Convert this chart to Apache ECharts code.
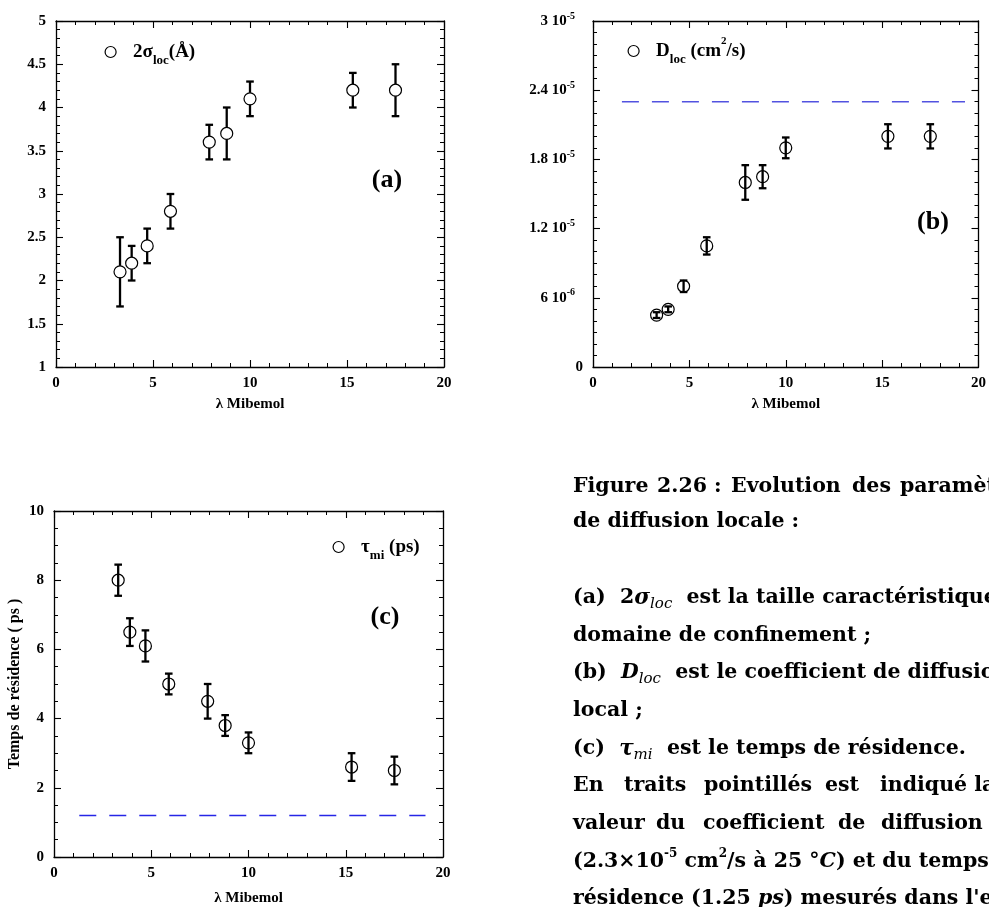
<!DOCTYPE html>
<html>
<head>
<meta charset="utf-8">
<script src="https://cdn.jsdelivr.net/npm/echarts@6/dist/echarts.min.js"></script>
<style>
html, body { margin: 0; padding: 0; background: #fff; }
#chart { width: 989px; height: 907px; }
</style>
</head>
<body>
<div id="chart"></div>
<script>
// λ Mibemol (shared by the three panels)
const lambda = [3.3, 3.9, 4.7, 5.9, 7.9, 8.8, 10, 15.3, 17.5];

// (a) 2σloc (Å)
const sigma    = [2.1, 2.2, 2.4, 2.8, 3.6, 3.7, 4.1, 4.2, 4.2];
const sigmaErr = [0.4, 0.2, 0.2, 0.2, 0.2, 0.3, 0.2, 0.2, 0.3];

// (b) Dloc (cm2/s)
const dloc    = [4.5e-6, 5.0e-6, 7.0e-6, 10.5e-6, 16.0e-6, 16.5e-6, 19.0e-6, 20.0e-6, 20.0e-6];
const dlocErr = [0.25e-6, 0.25e-6, 0.5e-6, 0.75e-6, 1.5e-6, 1.0e-6, 0.9e-6, 1.05e-6, 1.05e-6];
const dlocRef = 2.3e-5;          // eau pure, 25 °C
const dlocRefSpan = [1.5, 19.3];
const dlocTickMant = ['0', '6', '1.2', '1.8', '2.4', '3'];
const dlocTickExp  = ['', '-6', '-5', '-5', '-5', '-5'];

// (c) τmi (ps)
const tau    = [8.0, 6.5, 6.1, 5.0, 4.5, 3.8, 3.3, 2.6, 2.5];
const tauErr = [0.45, 0.4, 0.45, 0.3, 0.5, 0.3, 0.3, 0.4, 0.4];
const tauRef = 1.2;
const tauRefSpan = [1.3, 19.1];

const SERIF = '"Liberation Serif", "DejaVu Serif", serif';
const CAPFONT = '"DejaVu Serif", "Liberation Serif", serif';

const chart = echarts.init(document.getElementById('chart'));

// cadre : axes bas/haut, gauche/droite, graduations vers l'intérieur
function xPair(g, name, nameGap) {
    const base = {
        gridIndex: g, type: 'value', min: 0, max: 20, interval: 5,
        axisLine: { show: true, onZero: false, lineStyle: { color: '#000', width: 1.3 } },
        axisTick: { show: true, inside: true, length: 7, lineStyle: { color: '#000', width: 1.1 } },
        minorTick: { show: true, splitNumber: 5, length: 4, lineStyle: { color: '#000', width: 1 } },
        splitLine: { show: false },
        minorSplitLine: { show: false }
    };
    return [
        Object.assign({}, base, {
            position: 'bottom',
            axisLabel: { margin: 9, color: '#000', fontFamily: SERIF, fontWeight: 'bold', fontSize: 15 },
            name: name, nameLocation: 'middle', nameGap: nameGap,
            nameTextStyle: { color: '#000', fontFamily: SERIF, fontWeight: 'bold', fontSize: 15 }
        }),
        Object.assign({}, base, { position: 'top', axisLabel: { show: false } })
    ];
}

function yPair(g, min, max, interval, minorSplit, labelCfg, extra) {
    const base = {
        gridIndex: g, type: 'value', min: min, max: max, interval: interval,
        axisLine: { show: true, onZero: false, lineStyle: { color: '#000', width: 1.3 } },
        axisTick: { show: true, inside: true, length: 7, lineStyle: { color: '#000', width: 1.1 } },
        minorTick: { show: true, splitNumber: minorSplit, length: 4, lineStyle: { color: '#000', width: 1 } },
        splitLine: { show: false },
        minorSplitLine: { show: false }
    };
    return [
        Object.assign({}, base, { position: 'left', axisLabel: labelCfg }, extra || {}),
        Object.assign({}, base, { position: 'right', axisLabel: { show: false } })
    ];
}

const tickLabel = { margin: 10, color: '#000', fontFamily: SERIF, fontWeight: 'bold', fontSize: 15 };

function errorBarItem(params, api) {
    const x = api.value(0);
    const hi = api.coord([x, api.value(2)]);
    const lo = api.coord([x, api.value(1)]);
    const hw = 3.8;
    const style = { stroke: '#000', lineWidth: 2.3 };
    return {
        type: 'group',
        children: [
            { type: 'line', shape: { x1: hi[0], y1: hi[1], x2: lo[0], y2: lo[1] }, style: style },
            { type: 'line', shape: { x1: hi[0] - hw, y1: hi[1], x2: hi[0] + hw, y2: hi[1] }, style: style },
            { type: 'line', shape: { x1: lo[0] - hw, y1: lo[1], x2: lo[0] + hw, y2: lo[1] }, style: style }
        ]
    };
}

function errSeries(g, vals, errs) {
    return {
        type: 'custom', xAxisIndex: 2 * g, yAxisIndex: 2 * g, z: 2,
        renderItem: errorBarItem,
        encode: { x: 0, y: [1, 2] },
        data: lambda.map((x, i) => [x, vals[i] - errs[i], vals[i] + errs[i]]),
        silent: true
    };
}

function pointSeries(g, name, vals, fill) {
    return {
        type: 'scatter', name: name, xAxisIndex: 2 * g, yAxisIndex: 2 * g, z: 3,
        symbol: 'circle', symbolSize: 12,
        itemStyle: { color: fill, borderColor: '#000', borderWidth: 1.2, opacity: 1 },
        data: lambda.map((x, i) => [x, vals[i]])
    };
}

function refSeries(g, y, span, color) {
    return {
        type: 'line', xAxisIndex: 2 * g, yAxisIndex: 2 * g, z: 1,
        symbol: 'none', silent: true,
        lineStyle: { color: color, width: 1.3, type: [17, 13] },
        data: [[span[0], y], [span[1], y]]
    };
}

const legendRich = {
    f: { fontFamily: SERIF, fontWeight: 'bold', fontSize: 19, lineHeight: 30, padding: [0, 0, 0, 12], color: '#000' },
    m: { fontFamily: SERIF, fontWeight: 'bold', fontSize: 19, lineHeight: 30, color: '#000' },
    s: { fontFamily: SERIF, fontWeight: 'bold', fontSize: 13, lineHeight: 8, verticalAlign: 'bottom', color: '#000' },
    p: { fontFamily: SERIF, fontWeight: 'bold', fontSize: 11, lineHeight: 10, verticalAlign: 'top', color: '#000' }
};
const legendLabels = {
    sigma: '{f|2σ}{s|loc}{m|(Å)}',
    dloc: '{f|D}{s|loc}{m| (cm}{p|2}{m|/s)}',
    tau: '{f|τ}{s|mi}{m| (ps)}'
};
function legendAt(name, left, top) {
    return {
        data: [name], left: left, top: top, padding: 0, orient: 'vertical',
        icon: 'circle', itemWidth: 11, itemHeight: 11,
        itemStyle: { color: '#fff', borderColor: '#000', borderWidth: 1.2 },
        selectedMode: false,
        formatter: n => legendLabels[n],
        textStyle: { rich: legendRich }
    };
}

// légende du texte (figure 2.26)
const capBase = { fontFamily: CAPFONT, fontWeight: 'bold', fontSize: 20.5, lineHeight: 28, fill: '#000' };
const capRich = {
    bi: { fontFamily: CAPFONT, fontWeight: 'bold', fontStyle: 'italic', fontSize: 21.5, lineHeight: 28 },
    i: { fontFamily: CAPFONT, fontStyle: 'italic', fontWeight: 'bold', fontSize: 20.5, lineHeight: 28 },
    sub: { fontFamily: CAPFONT, fontStyle: 'italic', fontWeight: 'normal', fontSize: 15, lineHeight: 12, verticalAlign: 'bottom' },
    sup: { fontFamily: CAPFONT, fontWeight: 'bold', fontSize: 12, lineHeight: 14, verticalAlign: 'top' }
};
const captionLines = [
    [487, [[573, 'Figure'], [657, '2.26 :'], [731, 'Evolution'], [852, 'des'], [900, 'paramètres']]],
    [522, [[573, 'de diffusion locale :']]],
    [598, [[573, '(a)  2{bi|σ}{sub|loc}  est la taille caractéristique du']]],
    [636, [[573, 'domaine de confinement ;']]],
    [673, [[573, '(b)  {i|D}{sub|loc}  est le coefficient de diffusion']]],
    [711, [[573, 'local ;']]],
    [749, [[573, '(c)  {bi|τ}{sub|mi}  est le temps de résidence.']]],
    [786, [[573, 'En'], [624, 'traits'], [704, 'pointillés'], [825, 'est'], [880, 'indiqué la']]],
    [824, [[573, 'valeur'], [656, 'du'], [703, 'coefficient'], [838, 'de'], [881, 'diffusion']]],
    [862, [[573, '(2.3×10{sup|-5} cm{sup|2}/s à 25 °{i|C}) et du temps de']]],
    [899, [[573, 'résidence (1.25 {i|ps}) mesurés dans l\'eau']]]
];
const captionGraphics = [];
captionLines.forEach(([y, parts]) => {
    parts.forEach(([x, txt]) => {
        captionGraphics.push({
            type: 'text', x: x, y: y, silent: true,
            style: Object.assign({ text: txt, align: 'left', verticalAlign: 'middle', rich: capRich }, capBase)
        });
    });
});

const panelTags = [['(a)', 387, 180], ['(b)', 933, 222], ['(c)', 385, 617]];
panelTags.forEach(([t, x, y]) => {
    captionGraphics.push({
        type: 'text', x: x, y: y, silent: true,
        style: { text: t, align: 'center', verticalAlign: 'middle', fill: '#000',
                 fontFamily: SERIF, fontWeight: 'bold', fontSize: 26 }
    });
});

const xa = xPair(0, 'λ Mibemol', 30);
const xb = xPair(1, 'λ Mibemol', 30);
const xc = xPair(2, 'λ Mibemol', 34);

const ya = yPair(0, 1, 5, 0.5, 5, tickLabel);
const yb = yPair(1, 0, 3e-5, 6e-6, 6, {
    margin: 10, color: '#000',
    formatter: v => {
        const k = Math.round(v / 6e-6);
        if (!dlocTickExp[k]) return '{n|' + dlocTickMant[k] + '}';
        return '{n|' + dlocTickMant[k] + ' 10}{e|' + dlocTickExp[k] + '}';
    },
    rich: {
        n: { fontFamily: SERIF, fontWeight: 'bold', fontSize: 15, lineHeight: 20, color: '#000' },
        e: { fontFamily: SERIF, fontWeight: 'bold', fontSize: 10, lineHeight: 10, verticalAlign: 'top',
             padding: [0, 8, 0, 0], color: '#000' }
    }
});
const yc = yPair(2, 0, 10, 2, 4, tickLabel, {
    name: 'Temps de résidence ( ps )', nameLocation: 'middle', nameGap: 31, nameRotate: 90,
    nameTextStyle: { color: '#000', fontFamily: SERIF, fontWeight: 'bold', fontSize: 16 }
});

chart.setOption({
    animation: false,
    backgroundColor: '#fff',
    grid: [
        { left: 56, top: 21, width: 388, height: 346 },
        { left: 593, top: 21, width: 388, height: 346 },
        { left: 54, top: 511, width: 389, height: 346 }
    ],
    xAxis: [].concat(xa, xb, xc),
    yAxis: [].concat(ya, yb, yc),
    legend: [
        legendAt('sigma', 104.5, 42.5),
        legendAt('dloc', 627.5, 36),
        legendAt('tau', 332.5, 537.5)
    ],
    graphic: captionGraphics,
    series: [
        errSeries(0, sigma, sigmaErr),
        pointSeries(0, 'sigma', sigma, '#fff'),
        refSeries(1, dlocRef, dlocRefSpan, '#5252e0'),
        errSeries(1, dloc, dlocErr),
        pointSeries(1, 'dloc', dloc, 'rgba(255,255,255,0)'),
        refSeries(2, tauRef, tauRefSpan, '#2626e6'),
        errSeries(2, tau, tauErr),
        pointSeries(2, 'tau', tau, 'rgba(255,255,255,0)')
    ]
});
</script>
</body>
</html>
